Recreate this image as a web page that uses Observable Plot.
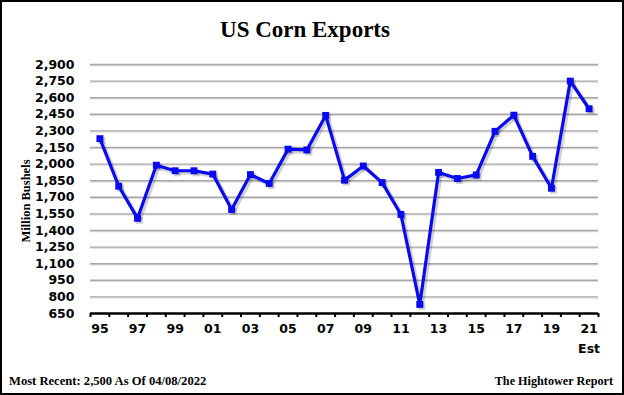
<!DOCTYPE html>
<html><head><meta charset="utf-8">
<script src="https://cdn.jsdelivr.net/npm/d3@7"></script>
<script src="https://cdn.jsdelivr.net/npm/@observablehq/plot@0.6"></script>
<style>
html,body{margin:0;padding:0;background:#fff;}
#wrap{position:relative;width:624px;height:395px;overflow:hidden;background:#fff;}
#border{position:absolute;left:0;top:0;width:624px;height:395px;box-sizing:border-box;border:2px solid #000;pointer-events:none;}
.t{position:absolute;font-family:"Liberation Serif",serif;font-weight:bold;color:#000;white-space:nowrap;}
</style></head><body>
<div id="wrap">
<div id="chart" style="position:absolute;left:0;top:0"></div>
<div class="t" style="left:0;width:610px;top:18px;text-align:center;font-size:23px;line-height:23px;">US Corn Exports</div>
<div class="t" style="left:26px;top:201px;font-size:12.5px;line-height:12.5px;transform:translate(-50%,-50%) rotate(-90deg);">Million Bushels</div>
<div class="t" style="left:9px;top:375px;font-size:12.6px;line-height:12.6px;">Most Recent: 2,500 As Of 04/08/2022</div>
<div class="t" style="right:11px;top:375px;font-size:12.2px;line-height:12.2px;">The Hightower Report</div>
<div id="border"></div>
</div>
<script>
const years = [1995,1996,1997,1998,1999,2000,2001,2002,2003,2004,2005,2006,2007,2008,2009,2010,2011,2012,2013,2014,2015,2016,2017,2018,2019,2020,2021];
const exportsMB = [2230,1800,1510,1990,1940,1940,1910,1590,1905,1825,2135,2128,2440,1855,1983,1833,1545,732,1925,1870,1902,2296,2442,2070,1782,2750,2500];
const yTicks = [650,800,950,1100,1250,1400,1550,1700,1850,2000,2150,2300,2450,2600,2750,2900];
const xLabelYears = [1995,1997,1999,2001,2003,2005,2007,2009,2011,2013,2015,2017,2019,2021];
const estLabel = ["Est"];

const data = years.map((y,i)=>({year:y, value:exportsMB[i]}));
const tickPositions = d3.range(years[0]-0.5, years[years.length-1]+1, 1);
const gridTicks = yTicks.slice(1);

const axisFont = {fontFamily:"'DejaVu Sans', Verdana, sans-serif", fontWeight:"bold", fontSize:"12.5px"};
const blue = "#0a0af2";

const plot = Plot.plot({
  width: 624, height: 395,
  marginTop: 64, marginBottom: 82, marginLeft: 90, marginRight: 26,
  style: {background:"transparent", color:"#000", overflow:"visible", ...axisFont},
  x: {type:"linear", domain:[years[0]-0.5, years[years.length-1]+0.5]},
  y: {domain:[650, 2900]},
  marks: [
    Plot.ruleY(gridTicks, {stroke:"#dcdcdc", strokeWidth:1.4, dy:1}),
    Plot.ruleY(gridTicks, {stroke:"#a8a8a8", strokeWidth:1.4}),
    Plot.axisY({ticks: yTicks, tickSize:0, tickPadding:16, tickFormat: d3.format(","), label:null, ...axisFont}),
    Plot.axisX({ticks: tickPositions, tickSize:4, tickFormat: ()=>"", label:null, strokeWidth:2}),
    Plot.axisX({ticks: xLabelYears, tickSize:0, tickPadding:11, tickFormat: d=>String(d%100).padStart(2,"0"), label:null, ...axisFont}),
    Plot.ruleY([650], {stroke:"#000", strokeWidth:2.5}),
    Plot.text(estLabel, {x:()=>years[years.length-1], frameAnchor:"bottom", dy:39, text:d=>d, ...axisFont, fill:"#000"}),
    Plot.line(data, {x:"year", y:"value", stroke:"#000", strokeOpacity:0.18, strokeWidth:4, dx:2, dy:2}),
    Plot.dot(data, {x:"year", y:"value", symbol:"square", r:4, fill:"#000", fillOpacity:0.18, stroke:"none", dx:2, dy:2}),
    Plot.line(data, {x:"year", y:"value", stroke:blue, strokeWidth:3.2}),
    Plot.dot(data, {x:"year", y:"value", symbol:"square", r:3.9, fill:blue, stroke:"none"})
  ]
});
document.getElementById("chart").appendChild(plot);
</script>
</body></html>
